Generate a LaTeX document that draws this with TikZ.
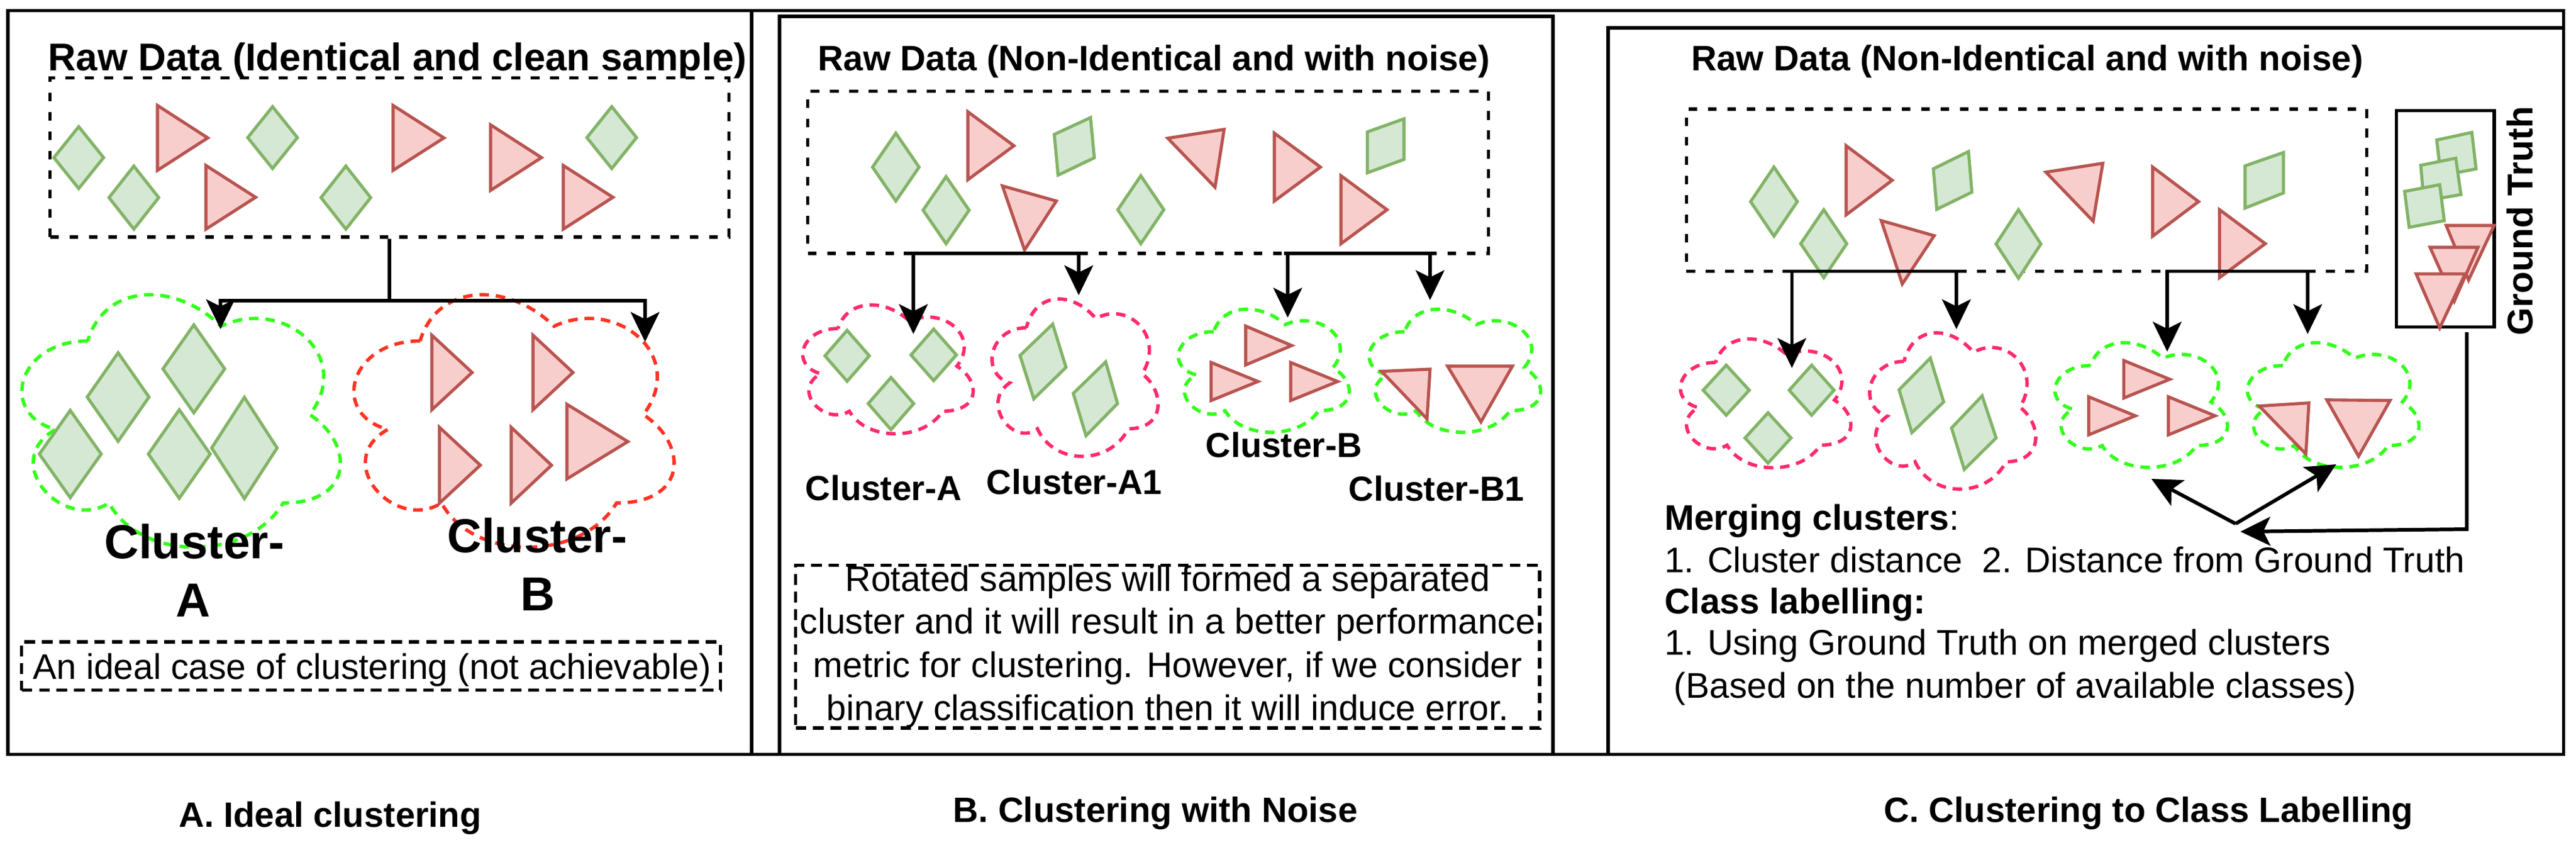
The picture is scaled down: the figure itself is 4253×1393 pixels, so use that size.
\documentclass[tikz,border=0pt]{standalone}
\usepackage{fontspec}
\setmainfont{Liberation Sans}
\usetikzlibrary{arrows.meta}
\definecolor{gfill}{HTML}{D5E8D4}
\definecolor{gline}{HTML}{82B366}
\definecolor{rfill}{HTML}{F8CECC}
\definecolor{rline}{HTML}{B85450}
\definecolor{cgreen}{HTML}{33FF1A}
\definecolor{cred}{HTML}{FF3322}
\definecolor{cpink}{HTML}{FF2A6A}
\newcommand\Dia[4]{\draw[gsh] (#1,{#2-#4}) -- ({#1+#3},#2) -- (#1,{#2+#4}) -- ({#1-#3},#2) -- cycle;}
\newcommand\TriR[4]{\draw[rsh] (#1,#2) -- (#4,{(#2+#3)/2}) -- (#1,#3) -- cycle;}
\newcommand\GPoly[1]{\draw[gsh] #1 -- cycle;}
\newcommand\RPoly[1]{\draw[rsh] #1 -- cycle;}
\newcommand\Cld[5]{\draw[#1,shift={(#2,#3)},xscale=#4,yscale=#5] (0.25,0.25) .. controls (0.05,0.25) and (0,0.5) .. (0.16,0.55) .. controls (0,0.66) and (0.18,0.9) .. (0.31,0.8) .. controls (0.4,1) and (0.7,1) .. (0.8,0.8) .. controls (1,0.8) and (1,0.6) .. (0.875,0.5) .. controls (1,0.3) and (0.8,0.1) .. (0.625,0.2) .. controls (0.5,0.05) and (0.3,0.05) .. (0.25,0.25) -- cycle;}
\tikzset{
  gsh/.style={draw=gline,fill=gfill,line width=1.45pt},
  rsh/.style={draw=rline,fill=rfill,line width=1.45pt},
  cldg/.style={draw=cgreen,line width=1.6pt,dash pattern=on 4.5pt off 3.2pt},
  cldr/.style={draw=cred,line width=1.6pt,dash pattern=on 4.5pt off 3.2pt},
  cldp/.style={draw=cpink,line width=1.6pt,dash pattern=on 4.5pt off 3.2pt},
  frm/.style={draw=black,line width=1.6pt},
  rawbox/.style={draw=black,line width=1.5pt,dash pattern=on 4.1pt off 5pt,inner sep=0pt},
  notebox/.style={draw=black,line width=1.5pt,dash pattern=on 5pt off 3.2pt,inner sep=0pt},
  barln/.style={line width=1.55pt},
  conn/.style={line width=1.5pt,-{Stealth[length=14pt,width=13.5pt,inset=3.3pt]}},
  connb/.style={line width=1.7pt,-{Stealth[length=14pt,width=13.5pt,inset=3.3pt]}},
  ttlA/.style={inner sep=0pt,font=\fontsize{18.1}{21}\selectfont\bfseries},
  ttl/.style={inner sep=0pt,font=\fontsize{16.6}{20}\selectfont\bfseries},
  bigl/.style={inner sep=0pt,font=\fontsize{22.4}{26}\selectfont\bfseries},
  lbl/.style={inner sep=0pt,font=\fontsize{16.3}{20}\selectfont\bfseries},
  body/.style={inner sep=0pt,font=\fontsize{16.7}{20}\selectfont},
  capn/.style={inner sep=0pt,font=\fontsize{16.5}{20}\selectfont\bfseries},
  gttxt/.style={inner sep=0pt,font=\fontsize{16.8}{20}\selectfont\bfseries},
}
\begin{document}
\begin{tikzpicture}[x=0.01cm,y=-0.01cm]
\useasboundingbox (0,0) rectangle (4253,1393);
\fill[white] (0,0) rectangle (4253,1393);
% ---------- frames ----------
\draw[frm] (13,17.5) rectangle (4232.5,1244.5);
\draw[frm] (1241,17.5) -- (1241,1244.5);
\draw[frm] (1287,27) rectangle (2564,1244.5);
\draw[frm] (2655,46) rectangle (4232.5,1244.5);

% ================= PANEL A =================
\node[ttlA,anchor=base] (tA) at (656.5,116) {Raw Data (Identical and clean sample)};
\node[rawbox,minimum width=11.2cm,minimum height=2.625cm] (rawA) at (643,259.75) {};
\Dia{130}{260}{41}{51}
\TriR{260}{174}{281}{343}
\Dia{221}{326}{41}{52}
\TriR{340}{273}{378}{422}
\Dia{450}{227}{41}{51}
\TriR{649}{174}{281}{733}
\Dia{571}{326}{41}{52}
\TriR{810}{206}{314}{894}
\Dia{1010}{227}{41}{51}
\TriR{930}{273}{378}{1012}
% clouds
\Cld{cldg}{-2}{441}{587}{486}
\Cld{cldr}{546}{441}{590}{486}
\Dia{195}{655}{51}{73}
\Dia{320}{608.5}{51}{72.5}
\Dia{116}{749}{51}{72}
\Dia{296}{749}{51}{73}
\Dia{403.5}{739}{54}{83.5}
\TriR{713}{553}{676}{779.5}
\TriR{880}{553}{676}{946}
\TriR{725.6}{705}{830}{793}
\TriR{844}{705}{830}{910.5}
\TriR{936}{667}{790}{1036.6}
% connectors
\coordinate (aJ) at (643,496);
\coordinate (aL) at (364,543);
\coordinate (aR) at (1065,564);
\draw[barln] (rawA.south) -- (aJ);
\draw[conn] (aJ) -| (aL);
\draw[conn] (aJ) -| (aR);
% labels
\node[bigl,anchor=base] (cA1) at (321,921) {Cluster-};
\node[bigl,anchor=base] (cA2) at (319,1017) {A};
\node[bigl,anchor=base] (cB1) at (887,911) {Cluster-};
\node[bigl,anchor=base] (cB2) at (888,1007) {B};
\node[notebox,minimum width=11.53cm,minimum height=0.796cm] (nA) at (612.5,1098.8) {};
\node[body,anchor=base] (nAt) at (614,1120) {An ideal case of clustering (not achievable)};
\node[capn,anchor=base] (capA) at (545,1364) {A. Ideal clustering};

% ================= PANEL B =================
\node[ttl,anchor=base] (tB) at (1905,116) {Raw Data (Non-Identical and with noise)};
\node[rawbox,minimum width=11.23cm,minimum height=2.675cm] (rawB) at (1895.5,284.25) {};
\Dia{1479}{275.7}{38.4}{56}
\TriR{1598}{184.5}{296.4}{1674}
\GPoly{(1740.6,221.8)--(1800.5,194)--(1806.7,260.3)--(1746.9,288.9)}
\RPoly{(1928,228)--(2021,213.5)--(2006,308.8)}
\TriR{2104}{219.7}{331.6}{2180}
\GPoly{(2257.6,217.6)--(2318,196)--(2318,263)--(2257.6,285)}
\Dia{1562}{346.7}{38}{55.3}
\RPoly{(1655,306.7)--(1744,331.6)--(1691.5,412.4)}
\Dia{1883.5}{346}{38}{56}
\TriR{2214}{290}{402}{2290}
% clouds
\Cld{cldp}{1305}{480}{314}{248}
\Cld{cldp}{1618}{465}{306}{303}
\Cld{cldg}{1925}{488}{315}{237}
\Cld{cldg}{2240}{488}{316}{237}
\Dia{1398.6}{587}{36.6}{42}
\Dia{1541.5}{585.5}{37.5}{42.5}
\Dia{1471}{665.8}{37.5}{43}
\GPoly{(1738,534.7)--(1760,606)--(1706.7,658)--(1684,586.5)}
\GPoly{(1825.5,597)--(1845,665.7)--(1793,718.8)--(1772,649)}
\TriR{2056.7}{538}{602}{2132.6}
\TriR{1999.6}{598}{660.7}{2077}
\TriR{2131}{598}{660.7}{2208.5}
\RPoly{(2281,612.6)--(2361,609)--(2356,691)}
\RPoly{(2390,604)--(2497,604)--(2445,696)}
% connectors
\coordinate (bK1) at (1492,418); \coordinate (bK2) at (1793,418);
\coordinate (bK3) at (2120,418); \coordinate (bK4) at (2372,418);
\coordinate (bJ1) at (1508,418); \coordinate (bJ2) at (1781,418);
\coordinate (bJ3) at (2126,418); \coordinate (bJ4) at (2361,418);
\coordinate (bA) at (1508,551); \coordinate (bA1) at (1781,487);
\coordinate (bB) at (2126,524); \coordinate (bB1) at (2361,495);
\draw[barln] (bK1) -- (bK2);
\draw[barln] (bK3) -- (bK4);
\draw[conn] (bJ1) -- (bA);
\draw[conn] (bJ2) -- (bA1);
\draw[conn] (bJ3) -- (bB);
\draw[conn] (bJ4) -- (bB1);
% labels
\node[lbl,anchor=base west] (lbA) at (1329,825) {Cluster-A};
\node[lbl,anchor=base west] (lbA1) at (1628,815) {Cluster-A1};
\node[lbl,anchor=base west] (lbB) at (1990,754) {Cluster-B};
\node[lbl,anchor=base west] (lbB1) at (2226,826.5) {Cluster-B1};
\node[notebox,minimum width=12.276cm,minimum height=2.68cm] (nB) at (1927.8,1066.8) {};
\node[body,anchor=base] (nB1) at (1928,975) {Rotated samples will formed a separated};
\node[body,anchor=base] (nB2) at (1928,1045) {cluster and it will result in a better performance};
\node[body,anchor=base] (nB3) at (1928,1117) {metric for clustering. However, if we consider};
\node[body,anchor=base] (nB4) at (1928,1188) {binary classification then it will induce error.};
\node[capn,anchor=base] (capB) at (1907.6,1356) {B. Clustering with Noise};

% ================= PANEL C =================
\node[ttl,anchor=base] (tC) at (3346.8,116) {Raw Data (Non-Identical and with noise)};
\node[rawbox,minimum width=11.225cm,minimum height=2.677cm] (rawC) at (3345.75,313.85) {};
\Dia{2928.8}{332.6}{38.5}{57}
\TriR{3048}{240.4}{354.4}{3124}
\GPoly{(3192,278.5)--(3250,250)--(3255.6,317)--(3197.6,345.3)}
\RPoly{(3377.8,284)--(3471.7,269.4)--(3455.8,364.8)}
\TriR{3554}{275.6}{389.6}{3629.8}
\GPoly{(3706.7,273.6)--(3770,251.6)--(3770,318.3)--(3706.7,343.2)}
\Dia{3011}{402}{38}{56}
\RPoly{(3106,364)--(3193.4,388.8)--(3140.7,468.4)}
\Dia{3332.5}{402.5}{37}{56.5}
\TriR{3664.5}{346}{458}{3740}
% ground truth
\node[draw=black,line width=1.55pt,inner sep=0pt,minimum width=1.612cm,minimum height=3.573cm] (gtB) at (4037.2,361) {};
\GPoly{(4023,231)--(4081,218.4)--(4088,278.5)--(4030,290)}
\GPoly{(3996.6,272.7)--(4054.5,261)--(4063,321)--(4002,331.6)}
\GPoly{(3970,315.8)--(4028,304.7)--(4035.5,364)--(3977.6,375)}
\RPoly{(4038.7,372)--(4117.8,372)--(4075.6,462)}
\RPoly{(4012,408)--(4091,408)--(4052,497)}
\RPoly{(3989,451.8)--(4070,451.8)--(4028,541)}
\node[gttxt,rotate=90] (gtL) at (4160,364.6) {Ground Truth};
% clouds
\Cld{cldp}{2754}{536}{314}{248}
\Cld{cldp}{3067}{521}{306}{301}
\Cld{cldg}{3372}{543}{318}{240}
\Cld{cldg}{3690}{543}{316}{240}
\Dia{2850}{643.7}{38}{41.3}
\Dia{2991}{643.7}{37}{41.3}
\Dia{2919}{722.5}{38}{41.5}
\GPoly{(3187,590.7)--(3209,663)--(3156.5,713.8)--(3135.4,643)}
\GPoly{(3272.5,653)--(3295.6,722.4)--(3243,774.5)--(3222,706)}
\TriR{3506.4}{594.8}{656.6}{3582.3}
\TriR{3448.5}{654.6}{717.3}{3525.4}
\TriR{3580}{654.6}{717.3}{3657}
\RPoly{(3730,669.8)--(3812,664.7)--(3807,749)}
\RPoly{(3841.6,659.7)--(3946,660.7)--(3894,752.7)}
% connectors
\coordinate (cK1) at (2942.6,447.7); \coordinate (cK2) at (3243,447.7);
\coordinate (cK3) at (3575,447.7); \coordinate (cK4) at (3819.5,447.7);
\coordinate (cJ1) at (2958.4,447.7); \coordinate (cJ2) at (3230,447.7);
\coordinate (cJ3) at (3578,447.7); \coordinate (cJ4) at (3810,447.7);
\coordinate (cA) at (2958.4,607); \coordinate (cA1) at (3230,543);
\coordinate (cB) at (3578,580); \coordinate (cB1) at (3810,551);
\draw[barln] (cK1) -- (cK2);
\draw[barln] (cK3) -- (cK4);
\draw[conn] (cJ1) -- (cA);
\draw[conn] (cJ2) -- (cA1);
\draw[conn] (cJ3) -- (cB);
\draw[conn] (cJ4) -- (cB1);
\coordinate (gS) at (4072.5,548);
\coordinate (gC) at (4072.5,873);
\coordinate (gT) at (3699,877);
\draw[connb] (gS) -- (gC) -- (gT);
\coordinate (xO) at (3691,864);
\coordinate (xL) at (3552,790);
\coordinate (xR) at (3857,766);
\draw[connb] (xO) -- (xL);
\draw[connb] (xO) -- (xR);
% text
\node[body,anchor=base west] (m1) at (2747.6,874.6) {\textbf{Merging clusters}:};
\node[body,anchor=base west] (m2) at (2747.6,944) {1. Cluster distance~ 2. Distance from Ground Truth};
\node[body,anchor=base west] (m3) at (2747.6,1012) {\textbf{Class labelling:}};
\node[body,anchor=base west] (m4) at (2747.6,1080.4) {1. Using Ground Truth on merged clusters};
\node[body,anchor=base west] (m5) at (2763,1151) {(Based on the number of available classes)};
\node[capn,anchor=base] (capC) at (3547.5,1356) {C. Clustering to Class Labelling};
\end{tikzpicture}
\end{document}
